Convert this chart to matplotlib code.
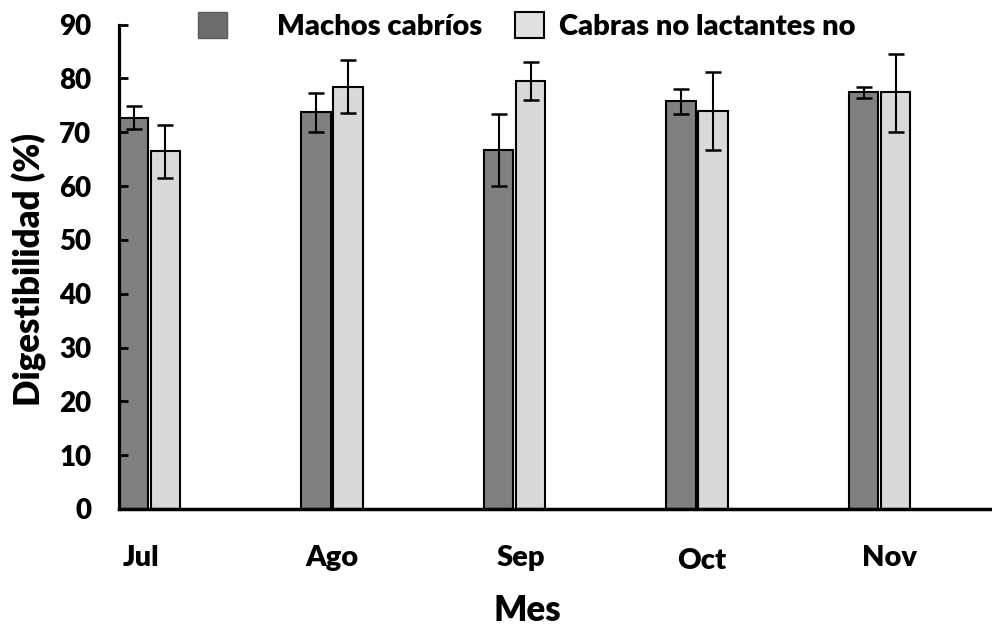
import numpy as np
import matplotlib.pyplot as plt
from matplotlib.patches import Patch
from matplotlib.transforms import ScaledTranslation

# Data
meses = ["Jul", "Ago", "Sep", "Oct", "Nov"]
machos = [72.7, 73.7, 66.8, 75.8, 77.4]
machos_lo = [70.6, 70.1, 60.1, 73.4, 76.3]
machos_hi = [74.85, 77.3, 73.4, 78.0, 78.4]
cabras = [66.5, 78.5, 79.5, 74.0, 77.4]
cabras_lo = [61.6, 73.5, 76.0, 66.7, 70.1]
cabras_hi = [71.3, 83.4, 83.0, 81.2, 84.6]
yticks = [0, 10, 20, 30, 40, 50, 60, 70, 80, 90]

plt.rcParams['font.family'] = ['Lato', 'DejaVu Sans']
plt.rcParams['font.weight'] = 'heavy'

fig = plt.figure(figsize=(9.92, 6.28), dpi=100)
ax = fig.add_axes([0.12, 0.1895, 0.88, 0.7712])

x = np.arange(len(meses))
w = 0.16
off = 0.0875

err_m = [np.array(machos) - np.array(machos_lo), np.array(machos_hi) - np.array(machos)]
err_c = [np.array(cabras) - np.array(cabras_lo), np.array(cabras_hi) - np.array(cabras)]

ax.bar(x - off, machos, w, color='#808080', edgecolor='black', linewidth=1.5,
       yerr=err_m, capsize=6, error_kw=dict(elinewidth=1.5, capthick=1.8, ecolor='black'))
ax.bar(x + off, cabras, w, color='#d9d9d9', edgecolor='black', linewidth=1.5,
       yerr=err_c, capsize=6, error_kw=dict(elinewidth=1.5, capthick=1.8, ecolor='black'))

ax.set_xlim(-0.167, 4.616)
ax.set_ylim(0, 90)
ax.set_yticks(yticks)
ax.set_xticks(x)
ax.set_xticklabels(meses)

for s in ['top', 'right']:
    ax.spines[s].set_visible(False)
ax.spines['left'].set_linewidth(2.3)
ax.spines['bottom'].set_linewidth(2.5)
ax.tick_params(axis='y', direction='in', length=6.5, width=2, labelsize=20, pad=20)
ax.tick_params(axis='x', length=0, labelsize=21, pad=26)

# month labels sit a little off the group centres in the original
shifts = [(-8, 0), (0, 0), (6, 0), (5, -3), (10, 0)]
for lbl, (dx, dy) in zip(ax.get_xticklabels(), shifts):
    lbl.set_transform(lbl.get_transform() + ScaledTranslation(dx / 100, dy / 100, fig.dpi_scale_trans))

ax.set_ylabel("Digestibilidad (%)", fontsize=25, fontweight='heavy')
ax.yaxis.set_label_coords(-0.082, 0.494)
ax.set_xlabel("Mes", fontsize=25, fontweight='heavy')
ax.xaxis.set_label_coords(0.468, -0.176)

# legend, two separate pieces as in the original
h1 = [Patch(facecolor='#6e6e6e', edgecolor='#5a5a5a')]
h2 = [Patch(facecolor='#e0e0e0', edgecolor='black', linewidth=1.5)]
leg1 = fig.legend(h1, ["Machos cabríos"], loc='center left', bbox_to_anchor=(0.1996, 0.9586),
                  frameon=False, fontsize=21, handlelength=1.0, handleheight=1.0,
                  handletextpad=1.7, borderpad=0, borderaxespad=0)
leg2 = fig.legend(h2, ["Cabras no lactantes no"], loc='center left', bbox_to_anchor=(0.519, 0.9586),
                  frameon=False, fontsize=21, handlelength=1.0, handleheight=1.0,
                  handletextpad=0.5, borderpad=0, borderaxespad=0)
for leg in (leg1, leg2):
    for t in leg.get_texts():
        t.set_fontweight('heavy')

fig.savefig("out.png", dpi=100)
